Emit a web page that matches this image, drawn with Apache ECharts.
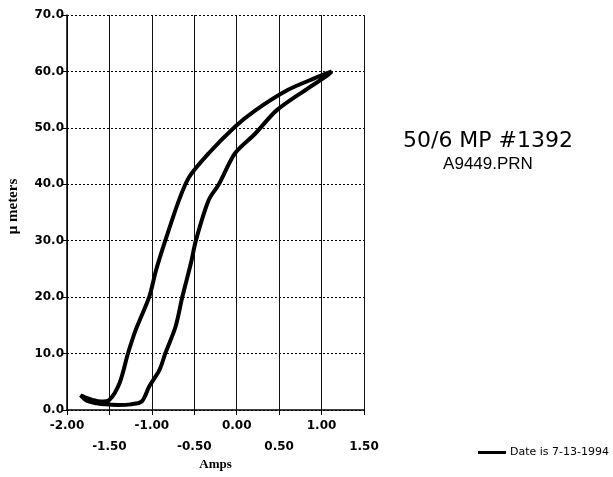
<!DOCTYPE html>
<html>
<head>
<meta charset="utf-8">
<script src="https://cdn.jsdelivr.net/npm/echarts@6/dist/echarts.min.js"></script>
<style>
html,body{margin:0;padding:0;background:#fff;}
#chart{width:613px;height:477px;}
</style>
</head>
<body>
<div id="chart"></div>
<script>
// Hysteresis loop: current (Amps) vs displacement (μ meters)
var ampsValues = [
  1.12, 0.92, 0.60, 0.22, -0.02, -0.33, -0.56, -0.68, -0.84, -0.95, -1.03, -1.19, -1.28, -1.38, -1.50,
  -1.60, -1.70, -1.78, -1.84,
  -1.76, -1.65, -1.55, -1.40, -1.25, -1.12, -1.03, -0.91, -0.84, -0.72, -0.64, -0.54, -0.48,
  -0.33, -0.21, -0.02, 0.22, 0.47, 0.84, 1.07, 1.12
];
var micronValues = [
  60.0, 58.8, 56.7, 53.1, 50.2, 45.5, 41.3, 37.2, 30.1, 24.8, 20.1, 14.2, 10.1, 4.8, 1.8,
  1.5, 1.8, 2.2, 2.6,
  1.6, 1.2, 1.0, 0.9, 1.0, 1.5, 4.2, 7.1, 10.1, 14.8, 20.1, 26.0, 30.1,
  37.2, 40.0, 45.5, 49.0, 53.1, 57.0, 59.3, 60.0
];
var seriesName = 'Date is 7-13-1994';
var titleText = '50/6 MP #1392';
var subtitleText = 'A9449.PRN';
var xAxisTitle = 'Amps';
var yAxisTitle = 'μ meters';

var points = ampsValues.map(function (a, i) { return [a, micronValues[i]]; });

var chart = echarts.init(document.getElementById('chart'));
chart.setOption({
  animation: false,
  backgroundColor: '#fff',
  title: [
    { text: titleText, left: 488, top: 130, textAlign: 'center', padding: 0,
      textStyle: { fontFamily: 'DejaVu Sans', fontSize: 22, fontWeight: 'normal', color: '#000' } },
    { text: subtitleText, left: 488, top: 156, textAlign: 'center', padding: 0,
      textStyle: { fontFamily: 'Liberation Sans', fontSize: 17, fontWeight: 'normal', color: '#000' } }
  ],
  legend: {
    left: 478, top: 447, padding: 0,
    itemWidth: 28, itemHeight: 3, itemGap: 4,
    icon: 'rect',
    data: [seriesName],
    textStyle: { fontFamily: 'DejaVu Sans', fontSize: 11, color: '#000', padding: [0, 0, 0, -1] }
  },
  grid: { left: 67, right: 249, top: 15, bottom: 67, containLabel: false, outerBoundsMode: 'none' },
  xAxis: {
    type: 'value', min: -2, max: 1.5, interval: 0.5,
    name: xAxisTitle, nameLocation: 'middle', nameGap: 48, nameMoveOverlap: false,
    nameTextStyle: { fontFamily: 'Liberation Serif', fontWeight: 'bold', fontSize: 13, color: '#000' },
    axisLine: { show: true, onZero: false, lineStyle: { color: '#000', width: 1.5 } },
    axisTick: { show: true, length: 5, lineStyle: { color: '#000' } },
    axisLabel: {
      margin: 5, lineHeight: 21,
      fontFamily: 'DejaVu Sans', fontWeight: 'bold', fontSize: 12, color: '#000',
      formatter: function (v) {
        var s = v.toFixed(2);
        var k = Math.round((v + 2) / 0.5);
        return (k % 2 === 1) ? '\n' + s : s;
      }
    },
    splitLine: { show: true, lineStyle: { color: '#111', width: 1, type: 'solid' } }
  },
  yAxis: {
    type: 'value', min: 0, max: 70, interval: 10,
    name: yAxisTitle, nameLocation: 'middle', nameGap: 46,
    nameTextStyle: { fontFamily: 'Liberation Serif', fontWeight: 'bold', fontSize: 15, color: '#000', padding: [0, 0, 0, 12] },
    axisLine: { show: true, onZero: false, lineStyle: { color: '#000', width: 1.5 } },
    axisTick: { show: true, length: 5, lineStyle: { color: '#000' } },
    axisLabel: {
      margin: 3,
      fontFamily: 'DejaVu Sans', fontWeight: 'bold', fontSize: 12, color: '#000',
      formatter: function (v) { return v.toFixed(1); }
    },
    splitLine: { show: true, lineStyle: { color: '#000', width: 1, type: [2, 2] } }
  },
  series: [{
    name: seriesName,
    type: 'line',
    data: points,
    showSymbol: false,
    symbol: 'none',
    smooth: 0.3,
    lineStyle: { color: '#000', width: 4 },
    itemStyle: { color: '#000' }
  }]
});
</script>
</body>
</html>
